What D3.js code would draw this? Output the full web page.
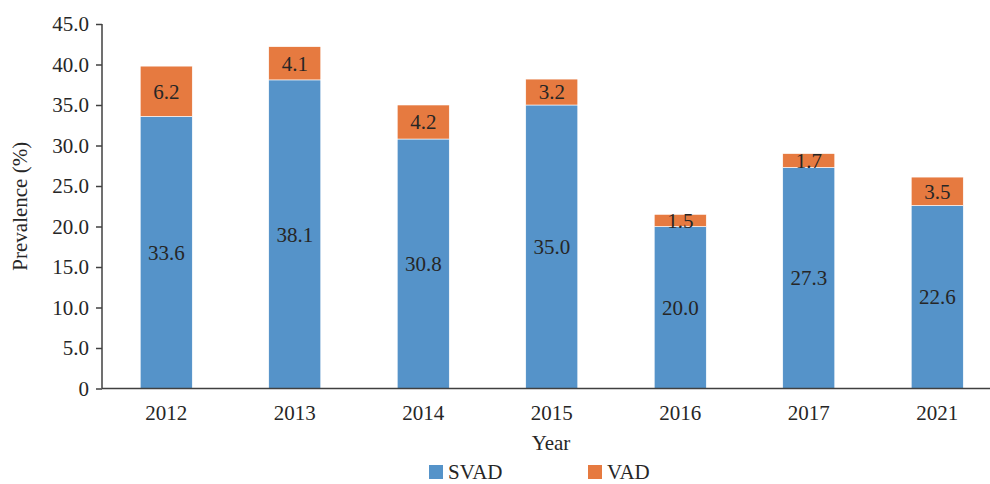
<!DOCTYPE html>
<html>
<head>
<meta charset="utf-8">
<script src="https://cdn.jsdelivr.net/npm/d3@7"></script>
<style>
  body { margin: 0; background: #fff; }
  svg text { font-family: "Liberation Serif", "Times New Roman", serif; fill: #262626; }
</style>
</head>
<body>
<div id="chart"></div>
<script>
// data
const years = ['2012', '2013', '2014', '2015', '2016', '2017', '2021'];
const svad = [33.6, 38.1, 30.8, 35.0, 20.0, 27.3, 22.6];
const vad = [6.2, 4.1, 4.2, 3.2, 1.5, 1.7, 3.5];
const yTicks = [0, 5, 10, 15, 20, 25, 30, 35, 40, 45];
const seriesNames = ['SVAD', 'VAD'];
const colors = ['#5593c9', '#e67a40'];

const width = 990, height = 484;
const margin = { top: 24, left: 102, bottom: 96 };
const plotBottom = height - margin.bottom + 0.5;
const fs = '21px';

const svg = d3.select('#chart').append('svg')
    .attr('width', width)
    .attr('height', height);

const x = d3.scaleBand()
    .domain(years)
    .range([margin.left, margin.left + 128.5 * years.length])
    .paddingInner(0.595)
    .paddingOuter(0.2975);

const y = d3.scaleLinear()
    .domain([0, 45])
    .range([plotBottom, margin.top]);

// stacked rows
const rows = years.map((yr, i) => ({ year: yr, SVAD: svad[i], VAD: vad[i] }));
const stack = d3.stack().keys(seriesNames)(rows);

const groups = svg.append('g')
    .selectAll('g')
    .data(stack)
    .join('g')
    .attr('fill', (d, i) => colors[i]);

groups.selectAll('rect')
    .data(d => d)
    .join('rect')
    .attr('x', d => x(d.data.year))
    .attr('width', x.bandwidth())
    .attr('y', d => y(d[1]))
    .attr('height', d => y(d[0]) - y(d[1]))
    .attr('stroke', '#ffffff')
    .attr('stroke-width', 0.6);

// value labels, middle of each segment
groups.selectAll('text')
    .data((d, i) => d.map(v => ({ v, key: seriesNames[i] })))
    .join('text')
    .attr('x', d => x(d.v.data.year) + x.bandwidth() / 2)
    .attr('y', d => y((d.v[0] + d.v[1]) / 2))
    .attr('dy', '0.35em')
    .attr('text-anchor', 'middle')
    .style('font-size', fs)
    .text(d => d.v.data[d.key].toFixed(1));

// y axis
const yAxis = svg.append('g')
    .attr('transform', `translate(${margin.left},0)`)
    .call(d3.axisLeft(y)
        .tickValues(yTicks)
        .tickSize(6)
        .tickPadding(7)
        .tickFormat(d => d === 0 ? '0' : d3.format('.1f')(d)));
yAxis.selectAll('line, path').attr('stroke', '#404040').attr('stroke-width', 1.5);
yAxis.select('.domain').attr('d', `M0,${margin.top}V${plotBottom}`);
yAxis.selectAll('text')
    .style('font-family', '"Liberation Serif", serif')
    .style('font-size', fs)
    .attr('fill', '#262626');

// x axis line + year labels (no ticks)
svg.append('line')
    .attr('x1', margin.left).attr('x2', width)
    .attr('y1', plotBottom).attr('y2', plotBottom)
    .attr('stroke', '#404040')
    .attr('stroke-width', 1.5);

svg.append('g')
    .selectAll('text')
    .data(years)
    .join('text')
    .attr('x', d => x(d) + x.bandwidth() / 2)
    .attr('y', plotBottom + 31)
    .attr('text-anchor', 'middle')
    .style('font-size', fs)
    .text(d => d);

// axis titles
svg.append('text')
    .attr('x', 551)
    .attr('y', 450)
    .attr('text-anchor', 'middle')
    .style('font-size', fs)
    .text('Year');

svg.append('text')
    .attr('transform', `translate(27,${(margin.top + plotBottom) / 2}) rotate(-90)`)
    .attr('text-anchor', 'middle')
    .style('font-size', fs)
    .text('Prevalence (%)');

// legend (kept just inside the bottom edge)
const legendX = [429, 588];
const legend = svg.append('g')
    .selectAll('g')
    .data(seriesNames)
    .join('g')
    .attr('transform', (d, i) => `translate(${legendX[i]},465)`);

legend.append('rect')
    .attr('width', 14).attr('height', 14)
    .attr('fill', (d, i) => colors[i]);

legend.append('text')
    .attr('x', 19)
    .attr('y', 14)
    .style('font-size', fs)
    .text(d => d);
</script>
</body>
</html>
